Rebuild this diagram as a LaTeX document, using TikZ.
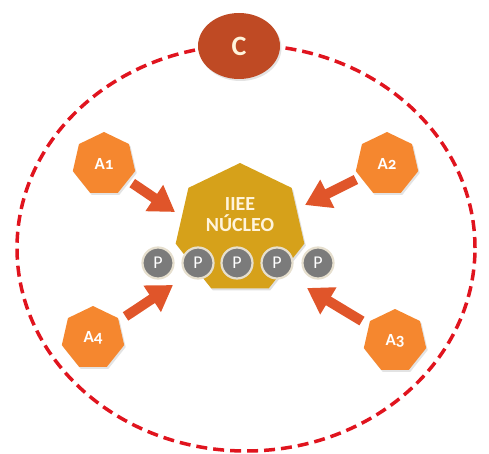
\documentclass[tikz,border=0pt]{standalone}
\usepackage{fontspec}
\setmainfont{Carlito}[Numbers=OldStyle]
\usetikzlibrary{shapes.geometric,arrows.meta,shadows}
\definecolor{hepor}{HTML}{F5872F}
\definecolor{arrowc}{HTML}{E0552A}
\definecolor{cbrown}{HTML}{BF4A24}
\definecolor{goldc}{HTML}{D6A11A}
\definecolor{pgray}{HTML}{7B7B7B}
\definecolor{pring}{HTML}{E6DFCE}
\definecolor{dashred}{HTML}{E0141E}
\definecolor{cream}{HTML}{FFF4DC}
\begin{document}
\begin{tikzpicture}[x=1pt,y=-1pt,
  softshadow/.style={drop shadow={opacity=0.22,shadow xshift=1.5pt,shadow yshift=-2pt}},
  agent/.style={regular polygon,regular polygon sides=7,minimum size=64pt,inner sep=0pt,
    fill=hepor,text=white,font=\bfseries\fontsize{17}{17}\selectfont,softshadow},
  core/.style={regular polygon,regular polygon sides=7,minimum size=132pt,inner sep=0pt,
    fill=goldc,drop shadow={opacity=0.25,shadow xshift=1.5pt,shadow yshift=-2pt}},
  pnode/.style={circle,minimum size=31pt,inner sep=0pt,fill=pgray,draw=pring,line width=2.2pt,
    text=white,font=\fontsize{18}{18}\selectfont},
  arr/.style={arrowc,line width=10pt,-{Triangle[length=25pt,width=30pt]}}]
\useasboundingbox (0,0) rectangle (489,454);
% dashed boundary
\draw[dashred,line width=3.5pt,dash pattern=on 11pt off 6pt] (246,248) ellipse [x radius=229pt,y radius=203pt];
% C
\node[ellipse,minimum width=82pt,minimum height=66pt,inner sep=0pt,fill=cbrown,text=cream,
  font=\bfseries\fontsize{28}{28}\selectfont,softshadow] (C) at (239,46) {C};
% nucleus
\node[core] (N) at (240,229) {};
\node[text=cream,align=center,font=\bfseries\fontsize{20}{21}\selectfont] (T) at (240,215) {IIEE\\NÚCLEO};
% P nodes
\node[pnode] (P1) at (158,263) {P};
\node[pnode] (P2) at (198,263) {P};
\node[pnode] (P3) at (237,263) {P};
\node[pnode] (P4) at (277,263) {P};
\node[pnode] (P5) at (318,263) {P};
% agents
\node[agent] (A1) at (104,164) {A1};
\node[agent] (A2) at (387,164) {A2};
\node[agent] (A3) at (395,341) {A3};
\node[agent] (A4) at (93,338) {A4};
% arrow tips
\coordinate (t1) at (175,212);
\coordinate (t2) at (305,205);
\coordinate (t3) at (307,288);
\coordinate (t4) at (173,285);
\draw[arr,shorten <=5pt] (A1) -- (t1);
\draw[arr,shorten <=5pt] (A2) -- (t2);
\draw[arr,shorten <=8pt] (A3) -- (t3);
\draw[arr,shorten <=8pt] (A4) -- (t4);
\end{tikzpicture}
\end{document}
